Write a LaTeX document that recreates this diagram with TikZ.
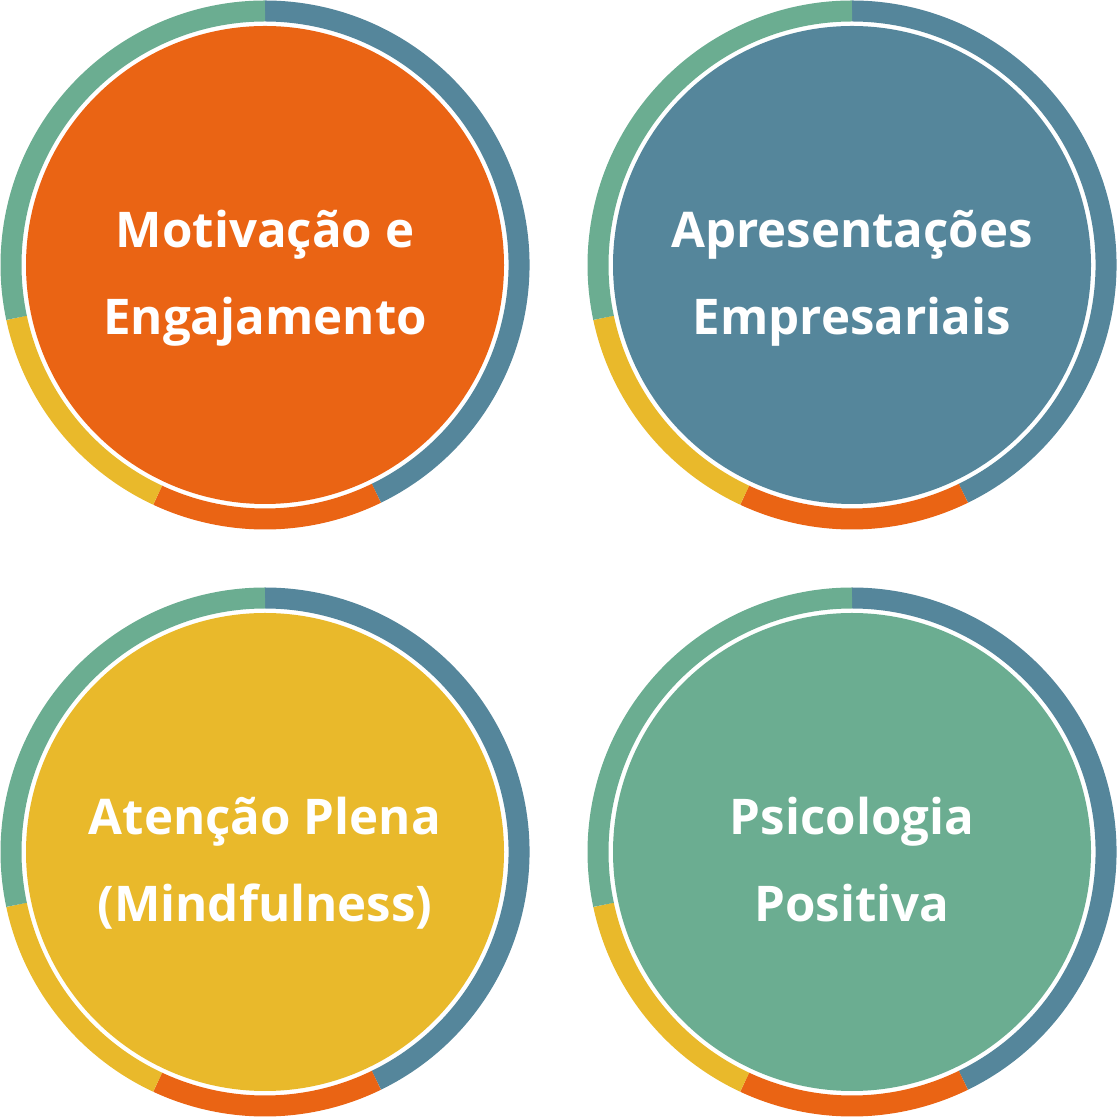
\documentclass[tikz,border=0pt]{standalone}
\usepackage{fontspec}
\setmainfont{Open Sans}
\usepackage{tikz}
\usetikzlibrary{positioning, calc}
\definecolor{ringBlue}{RGB}{85, 134, 155}
\definecolor{ringOrange}{RGB}{234, 100, 20}
\definecolor{ringYellow}{RGB}{233, 185, 43}
\definecolor{ringGreen}{RGB}{107, 173, 145}

\begin{document}
\begin{tikzpicture}[
    ring/.style={line width=0.21cm},
    disc/.style={fill=#1, draw=none},
    label/.style={text=white, font=\fontsize{14.0}{24.5}\selectfont\bfseries, anchor=base, inner sep=0pt}
  ]
  % 余白を固定
  \useasboundingbox (0,0) rectangle (11.17,11.17);

  % 円の中心
  \coordinate (MO) at (2.65, 8.52);
  \coordinate (AP) at (8.52, 8.52);
  \coordinate (AT) at (2.65, 2.65);
  \coordinate (PS) at (8.52, 2.65);

  % 外側のリング (四色の弧)
  \foreach \c in {MO, AP, AT, PS} {
    \draw[ring, ringBlue]   ($(\c)+(-64:2.54)$)  arc (-64:90:2.54);
    \draw[ring, ringOrange] ($(\c)+(-115:2.54)$) arc (-115:-64:2.54);
    \draw[ring, ringYellow] ($(\c)+(-168:2.54)$) arc (-168:-115:2.54);
    \draw[ring, ringGreen]  ($(\c)+(90:2.54)$)   arc (90:192:2.54);
  }

  % 中の円
  \fill[disc=ringOrange] (MO) circle (2.39);
  \fill[disc=ringBlue]   (AP) circle (2.39);
  \fill[disc=ringYellow] (AT) circle (2.39);
  \fill[disc=ringGreen]  (PS) circle (2.39);

  % 文字
  \node[label] (mo1) at ($(MO)+(0,0.17)$) {Motivação e};
  \node[label] (mo2) at ($(MO)+(0,-0.70)$) {Engajamento};
  \node[label] (ap1) at ($(AP)+(0,0.17)$) {Apresentações};
  \node[label] (ap2) at ($(AP)+(0,-0.70)$) {Empresariais};
  \node[label] (at1) at ($(AT)+(0,0.17)$) {Atenção Plena};
  \node[label] (at2) at ($(AT)+(0,-0.70)$) {(Mindfulness)};
  \node[label] (ps1) at ($(PS)+(0,0.17)$) {Psicologia};
  \node[label] (ps2) at ($(PS)+(0,-0.70)$) {Positiva};
\end{tikzpicture}
\end{document}
